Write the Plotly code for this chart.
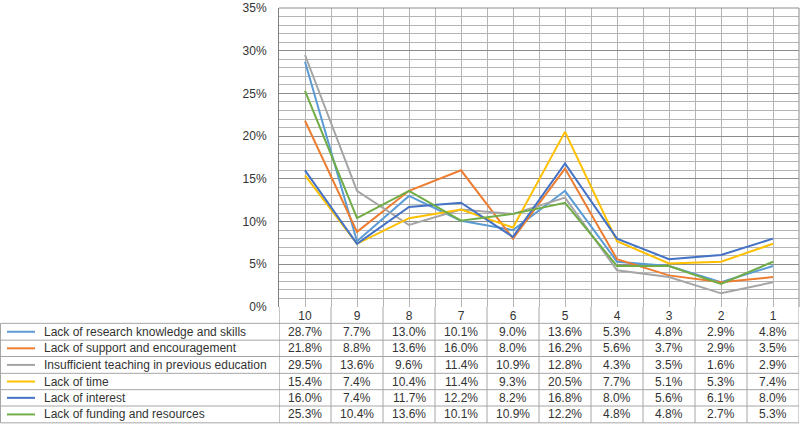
import plotly.graph_objects as go

categories = ["10", "9", "8", "7", "6", "5", "4", "3", "2", "1"]
series_names = [
    "Lack of research knowledge and skills",
    "Lack of support and encouragement",
    "Insufficient teaching in previous education",
    "Lack of time",
    "Lack of interest",
    "Lack of funding and resources",
]
research_knowledge = [28.7, 7.7, 13.0, 10.1, 9.0, 13.6, 5.3, 4.8, 2.9, 4.8]
support = [21.8, 8.8, 13.6, 16.0, 8.0, 16.2, 5.6, 3.7, 2.9, 3.5]
insufficient_teaching = [29.5, 13.6, 9.6, 11.4, 10.9, 12.8, 4.3, 3.5, 1.6, 2.9]
time_lack = [15.4, 7.4, 10.4, 11.4, 9.3, 20.5, 7.7, 5.1, 5.3, 7.4]
interest = [16.0, 7.4, 11.7, 12.2, 8.2, 16.8, 8.0, 5.6, 6.1, 8.0]
funding = [25.3, 10.4, 13.6, 10.1, 10.9, 12.2, 4.8, 4.8, 2.7, 5.3]
series_values = [research_knowledge, support, insufficient_teaching, time_lack, interest, funding]
colors = ["#5B9BD5", "#ED7D31", "#A5A5A5", "#FFC000", "#4472C4", "#70AD47"]
y_ticks = [0, 5, 10, 15, 20, 25, 30, 35]

W, H = 800, 426
L, R, T, B = 279, 1, 5, 119
PW = W - L - R
PH = H - T - B
FONT = "Liberation Sans, Arial, sans-serif"


def px_x(px):
    return (px - L) / PW


def px_y(py):
    return (H - B - py) / PH


xs = list(range(len(categories)))
fig = go.Figure()
for name, vals, c in zip(series_names, series_values, colors):
    fig.add_trace(go.Scatter(x=xs, y=vals, mode="lines", name=name,
                             line=dict(color=c, width=2), showlegend=False,
                             cliponaxis=False))

grid_c = "#b4b4b4"
fig.update_layout(
    width=W, height=H,
    margin=dict(l=L, r=R, t=T, b=B),
    paper_bgcolor="white", plot_bgcolor="white",
    font=dict(family=FONT, size=12, color="#333333"),
    xaxis=dict(
        range=[-0.5, len(categories) - 0.5],
        tickmode="array", tickvals=xs, ticktext=categories,
        showgrid=True, gridcolor=grid_c, gridwidth=1,
        ticks="", zeroline=False, showline=False,
        tickfont=dict(size=12, color="#333333"),
        minor=dict(tickvals=[i - 0.5 for i in range(len(categories) + 1)],
                   showgrid=True, gridcolor=grid_c, gridwidth=1, ticks=""),
    ),
    yaxis=dict(
        range=[0, 35.0001], tickmode="array", tickvals=y_ticks,
        ticktext=[f"{v}%" for v in y_ticks],
        showgrid=True, gridcolor="#8c8c8c", gridwidth=1,
        zeroline=False, showline=True, linecolor="#7f7f7f", linewidth=1,
        ticks="", ticklabelstandoff=9, ticklabeloverflow="allow",
        tickfont=dict(size=12, color="#333333"),
        minor=dict(dtick=1, showgrid=True, gridcolor=grid_c, gridwidth=1),
    ),
)

shapes = []
# plot top and right border
shapes.append(dict(type="line", xref="paper", yref="paper", x0=0, x1=1, y0=1, y1=1,
                   line=dict(color="#8c8c8c", width=1)))
shapes.append(dict(type="line", xref="paper", yref="paper", x0=1, x1=1, y0=0, y1=1,
                   line=dict(color="#8c8c8c", width=1)))

row_edges = [323.5, 340.5, 357, 374, 390.5, 407, 424]
tbl_c = "#a6a6a6"
# horizontal table lines
for py in row_edges:
    shapes.append(dict(type="line", xref="paper", yref="paper",
                       x0=px_x(0.5), x1=1, y0=px_y(py), y1=px_y(py),
                       line=dict(color=tbl_c, width=1)))
# left border of legend column
shapes.append(dict(type="line", xref="paper", yref="paper",
                   x0=px_x(0.5), x1=px_x(0.5), y0=px_y(row_edges[0]), y1=px_y(row_edges[-1]),
                   line=dict(color=tbl_c, width=1)))
# vertical table lines at category boundaries
for i in range(len(categories) + 1):
    shapes.append(dict(type="line", xref="x", yref="paper",
                       x0=i - 0.5, x1=i - 0.5, y0=0, y1=px_y(row_edges[-1]),
                       line=dict(color="#8c8c8c" if i == 0 else tbl_c, width=1)))

annotations = []
for r, (name, vals, c) in enumerate(zip(series_names, series_values, colors)):
    cy = (row_edges[r] + row_edges[r + 1]) / 2
    shapes.append(dict(type="line", xref="paper", yref="paper",
                       x0=px_x(7), x1=px_x(35), y0=px_y(cy), y1=px_y(cy),
                       line=dict(color=c, width=2)))
    annotations.append(dict(xref="paper", yref="paper", x=px_x(42), y=px_y(cy),
                            text=name, showarrow=False, xanchor="left", yanchor="middle",
                            font=dict(size=12, color="#333333", family=FONT)))
    for i, v in enumerate(vals):
        annotations.append(dict(xref="x", yref="paper", x=i, y=px_y(cy),
                                text=f"{v:.1f}%", showarrow=False,
                                xanchor="center", yanchor="middle",
                                font=dict(size=12, color="#333333", family=FONT)))

fig.update_layout(shapes=shapes, annotations=annotations)
fig.write_html("out.html", config={"displayModeBar": False},
               post_script="document.body.style.margin='0px';")
